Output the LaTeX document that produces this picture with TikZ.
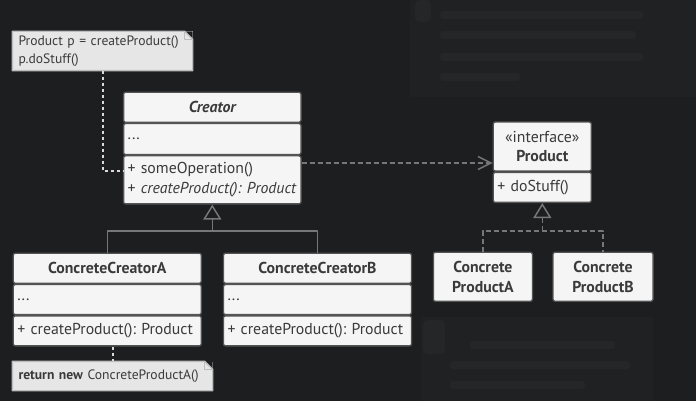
\documentclass[tikz,border=0pt]{standalone}
\usepackage{fontspec}
\setmainfont{PT Sans}
\usetikzlibrary{arrows.meta,calc,positioning}
\definecolor{diagbg}{HTML}{1D1E20}
\definecolor{panelbg}{HTML}{202123}
\definecolor{panelblur}{HTML}{252628}
\definecolor{classfill}{HTML}{F5F5F5}
\definecolor{classline}{HTML}{545454}
\definecolor{classtext}{HTML}{3A3A3A}
\definecolor{notefill}{HTML}{E6E6E6}
\definecolor{noteline}{HTML}{BDBDBD}
\definecolor{linkgray}{HTML}{777777}
\definecolor{dotwhite}{HTML}{DADADA}
\tikzset{
every picture/.style={line join=round},
class box/.style={
  draw=classline,
  fill=classfill,
  rounded corners=2pt,
  line width=1.3pt,
  text=classtext,
  inner xsep=4pt,
  inner ysep=2pt,
  font=\fontsize{15.8}{19.5}\selectfont\frenchspacing
},
uml head/.style={class box, text width=#1, align=center,
  font=\fontsize{15.8}{19.5}\selectfont\frenchspacing\bfseries},
uml part/.style={class box, text width=#1, align=left},
note box/.style={
  fill=notefill,
  text=classtext,
  align=left,
  inner xsep=6pt,
  inner ysep=2pt,
  anchor=center,
  font=\fontsize{13.6}{18}\selectfont\frenchspacing
},
note edge/.style={draw=noteline, line width=1.4pt},
inherit line/.style={draw=linkgray, line width=1.5pt},
impl line/.style={draw=linkgray, line width=1.5pt, dash pattern=on 5pt off 3pt},
dep line/.style={draw=linkgray, line width=1.5pt, dash pattern=on 5pt off 3pt,
  -{Straight Barb[length=13pt,width=13pt,line width=1.5pt]}},
note link/.style={draw=dotwhite, line width=1.5pt, dash pattern=on 3pt off 3pt},
hollow tip/.style={-{Triangle[open,length=15pt,width=18pt,line width=1.5pt,fill=diagbg]}}
}
\begin{document}
\begin{tikzpicture}[x=1pt,y=-1pt]
\useasboundingbox[fill=diagbg] (0,0) rectangle (696,401);
% blurred side panels
\fill[panelbg] (410,0) rectangle (696,97);
\fill[panelbg] (421,317) rectangle (653,401);
\fill[panelblur,rounded corners=5pt] (415,0) rectangle (431,22);
\foreach \y/\w in {15/643,35/636,57/643,77/520}
  \fill[panelblur,rounded corners=3pt] (440,\y-4) rectangle (\w,\y+4);
\fill[panelblur,rounded corners=5pt] (423,320) rectangle (445,354);
\foreach \y/\x/\w in {345/470/615,365/450/630,385/450/585}
  \fill[panelblur,rounded corners=3pt] (\x,\y-4) rectangle (\w,\y+4);

% creator
\node[uml head=169.4pt, font=\fontsize{15.8}{19.5}\selectfont\bfseries\itshape,
  minimum height=30pt, anchor=north] (creator) at (212.3,91.6) {Creator};
\node[uml part=169.4pt, minimum height=31pt, below=0pt of creator] (crattr) {...};
\node[uml part=169.4pt, minimum height=48pt, below=0pt of crattr] (crops)
  {+ someOperation()\\+ \textit{createProduct(): Product}};

% product interface
\node[uml head=90pt, minimum height=49pt, anchor=north] (product) at (542.3,121.4)
  {{\mdseries«interface»}\\Product};
\node[uml part=90pt, minimum height=30pt, below=0pt of product] (prodops) {+ doStuff()};

% concrete creators
\node[uml head=180pt, minimum height=30pt, anchor=north] (cca) at (107.3,252.6) {ConcreteCreatorA};
\node[uml part=180pt, minimum height=30pt, below=0pt of cca] (ccaattr) {...};
\node[uml part=180pt, minimum height=30pt, below=0pt of ccaattr] (ccaops) {+ createProduct(): Product};
\node[uml head=180pt, minimum height=30pt, anchor=north] (ccb) at (317.5,252.6) {ConcreteCreatorB};
\node[uml part=180pt, minimum height=30pt, below=0pt of ccb] (ccbattr) {...};
\node[uml part=180pt, minimum height=30pt, below=0pt of ccbattr] (ccbops) {+ createProduct(): Product};

% concrete products
\node[uml head=91pt, minimum height=49pt, anchor=north] (cpa) at (482.9,251.6) {Concrete\\ProductA};
\node[uml head=92pt, minimum height=49pt, anchor=north] (cpb) at (603,251.6) {Concrete\\ProductB};

% notes
\node[note box, minimum width=180pt, minimum height=39pt, text width=168pt] (note1) at (102.5,51)
  {Product p = createProduct()\\p.doStuff()};
\fill[diagbg] ([xshift=-8pt]note1.north east) -- (note1.north east) -- ([yshift=-8pt]note1.north east) -- cycle;
\draw[note edge] (note1.south west) -- (note1.north west) -- ([xshift=-8pt]note1.north east)
  -- ([yshift=-8pt]note1.north east) -- (note1.south east) -- cycle;
\draw[note edge] ([xshift=-8pt]note1.north east) |- ([yshift=-8pt]note1.north east);
\node[note box, minimum width=200pt, minimum height=29pt, text width=188pt] (note2) at (112.5,376)
  {\textbf{return new} ConcreteProductA()};
\fill[diagbg] ([xshift=-8pt]note2.north east) -- (note2.north east) -- ([yshift=-8pt]note2.north east) -- cycle;
\draw[note edge] (note2.south west) -- (note2.north west) -- ([xshift=-8pt]note2.north east)
  -- ([yshift=-8pt]note2.north east) -- (note2.south east) -- cycle;
\draw[note edge] ([xshift=-8pt]note2.north east) |- ([yshift=-8pt]note2.north east);

% connectors
\coordinate (n1turn) at (103,171);
\draw[note link] (note1.south -| n1turn) -- (n1turn) -- (n1turn -| crops.west);
\coordinate (n2x) at (113,0);
\draw[note link] (ccaops.south -| n2x) -- (note2.north -| n2x);
\coordinate (dep) at (0,163);
\draw[dep line] (crops.east |- dep) -- (product.west |- dep);
\coordinate (crjoin) at (212.3,231);
\draw[inherit line] (cca.north) |- (crjoin) -| (ccb.north);
\draw[inherit line, hollow tip] (crjoin) -- (crops.south);
\coordinate (prjoin) at (542.3,231);
\draw[impl line] (cpa.north) |- (prjoin) -| (cpb.north);
\draw[impl line, hollow tip] (prjoin) -- (prodops.south);
\end{tikzpicture}
\end{document}
